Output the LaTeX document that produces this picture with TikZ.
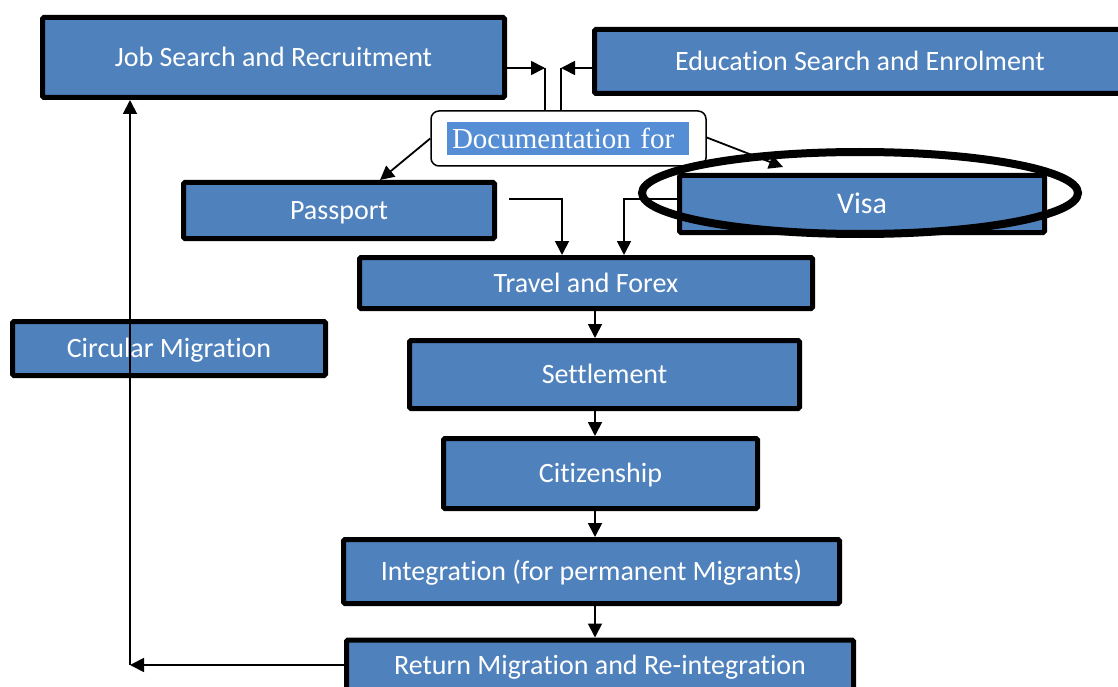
\documentclass[tikz,border=0pt]{standalone}
\usepackage{fontspec}
\setmainfont{Carlito}[RawFeature={-liga;-clig;-calt;-dlig}]
\newfontfamily\docfont{Liberation Serif}
\usetikzlibrary{arrows.meta,shapes.geometric,calc}
\definecolor{boxblue}{HTML}{4F81BD}
\definecolor{markblue}{HTML}{558ED5}

\begin{document}
\begin{tikzpicture}[x=1pt,y=-1pt,
  stage/.style={draw=black, line width=5pt, fill=boxblue, text=white,
    rounded corners=1.5pt, inner sep=0pt,
    font=\fontsize{28}{30}\selectfont, text height=18pt, text depth=0pt},
  link/.style={line width=1.8pt},
  arr/.style={link, -{Triangle[length=14pt,width=14pt]}}
]
\useasboundingbox (0,0) rectangle (1118,687);
\clip (0,0) rectangle (1118,687);

% process stages
\node[stage, minimum width=462pt, minimum height=80pt] (job)   at (273.5,57.5) {Job Search and Recruitment};
\node[stage, minimum width=531pt, minimum height=64pt] (edu)   at (860,61.5)   {Education Search and Enrolment};
\node[stage, minimum width=311pt, minimum height=56pt] (pass)  at (339,210.5)  {Passport};
\node[stage, minimum width=365pt, minimum height=57pt, font=\fontsize{30}{32}\selectfont, text height=19.3pt] (visa) at (862,204) {Visa};
\node[stage, minimum width=453pt, minimum height=51pt] (trav)  at (586,283)    {Travel and Forex};
\node[stage, minimum width=390pt, minimum height=68pt] (sett)  at (604.5,374.5) {Settlement};
\node[stage, minimum width=314pt, minimum height=70pt] (citz)  at (600.5,473.5) {Citizenship};
\node[stage, minimum width=496pt, minimum height=64pt] (integ) at (591.5,571.5) {Integration (for permanent Migrants)};
\node[stage, minimum width=507pt, minimum height=50pt] (ret)   at (600,665)    {Return Migration and Re-integration};
\node[stage, minimum width=313pt, minimum height=54pt] (circ)  at (169,348.5)  {Circular Migration};

% documentation call-out
\node[draw=black, line width=1.5pt, fill=white, rounded corners=8pt,
      minimum width=275pt, minimum height=55pt] (doc) at (568.5,138.5) {};
\node[fill=markblue, text=white, minimum height=33pt, text width=232pt,
      inner xsep=5pt, inner ysep=0pt, align=left,
      font=\docfont\fontsize{29}{30}\selectfont] (doclabel) at (568,138.5) {Documentation for};

% emphasis ring round the visa stage
\node[ellipse, draw=black, line width=8pt, minimum width=436pt,
      minimum height=82pt, inner sep=0pt] (ring) at (860,193) {};

% connectors
\coordinate (ja) at (545,68);
\coordinate (ea) at (561,68);
\draw[arr] (job.east |- ja) -- (ja);
\draw[link] (ja) -- (ja |- doc.north);
\draw[arr] (edu.west |- ea) -- (ea);
\draw[link] (ea) -- (ea |- doc.north);

\coordinate (vt) at (783,167);
\draw[arr] (doc.west) -- ([xshift=41pt]pass.north);
\draw[arr] ([yshift=1pt]doc.east) -- (vt);

\coordinate (ps) at (509,199);
\draw[arr] (ps) -| ([xshift=-24pt]trav.north);
\draw[arr] (visa.west |- ps) -| ([xshift=38pt]trav.north);

\coordinate (col) at (595,0);
\draw[arr] (trav.south -| col) -- (sett.north -| col);
\draw[arr] (sett.south -| col) -- (citz.north -| col);
\draw[arr] (citz.south -| col) -- (integ.north -| col);
\draw[arr] (integ.south -| col) -- (ret.north -| col);

\coordinate (rc) at (130,665);
\draw[arr] (ret.west) -- (rc);
\draw[arr] (rc) -- (rc |- job.south);
\end{tikzpicture}
\end{document}
